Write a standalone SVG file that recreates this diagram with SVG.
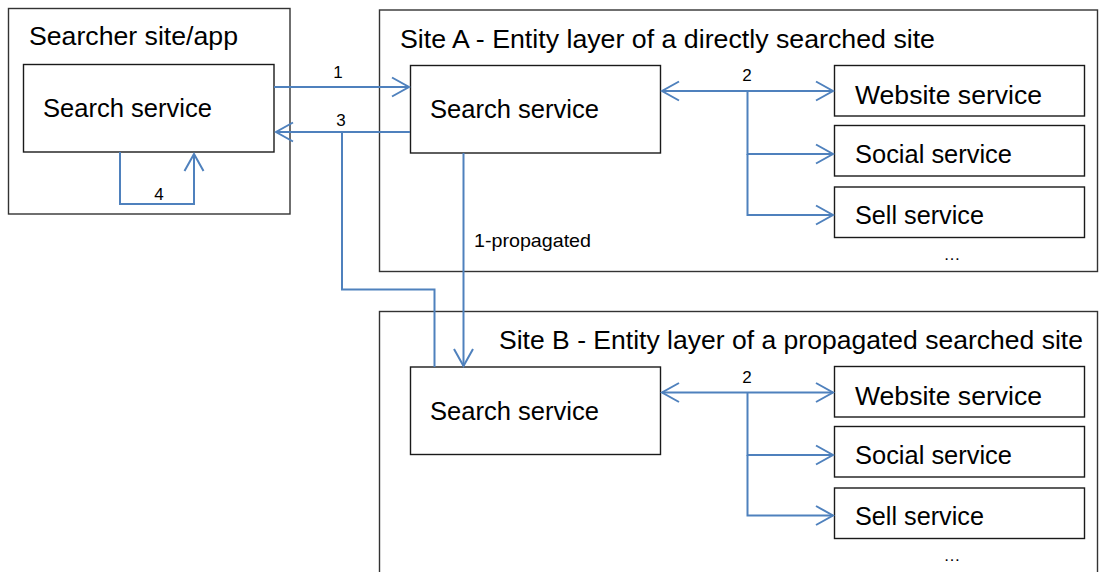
<svg xmlns="http://www.w3.org/2000/svg" width="1099" height="572" viewBox="0 0 1099 572">
<style>
.box{fill:#fff;stroke:#1a1a1a;stroke-width:1.4}
.outer{fill:#fff;stroke:#333;stroke-width:1.4}
.t{font-family:"Liberation Sans",Arial,sans-serif;font-size:25.5px;fill:#000}
.lbl{font-family:"Liberation Sans",Arial,sans-serif;font-size:17px;fill:#000;text-anchor:middle}
.sm{font-family:"Liberation Sans",Arial,sans-serif;font-size:18.5px;fill:#000}
.c{fill:none;stroke:#4F81BD;stroke-width:2}
.a{marker-end:url(#arr)}
.d{marker-start:url(#arr);marker-end:url(#arr)}
</style>
<defs>
<marker id="arr" markerUnits="userSpaceOnUse" viewBox="-19 -11 21 22" markerWidth="21" markerHeight="22" refX="0" refY="0" orient="auto-start-reverse">
<polyline points="-17,-9.5 0,0 -17,9.5" fill="none" stroke="#4F81BD" stroke-width="2"/>
</marker>
</defs>
<rect width="1099" height="572" fill="#fff"/>

<g id="searcher">
<rect class="outer" x="8.5" y="8.5" width="281.5" height="205.5"/>
<text class="t" x="29" y="45" textLength="209" lengthAdjust="spacingAndGlyphs">Searcher site/app</text>
</g>
<g id="searcher-search">
<rect class="box" x="23.5" y="64.5" width="250.5" height="87.5"/>
<text class="t" x="43" y="117" textLength="169" lengthAdjust="spacingAndGlyphs">Search service</text>
</g>

<g id="siteA">
<rect class="outer" x="379.5" y="10" width="718" height="261.5"/>
<text class="t" x="400" y="47.5" textLength="535" lengthAdjust="spacingAndGlyphs">Site A - Entity layer of a directly searched site</text>
<text class="lbl" x="952" y="260">…</text>
</g>
<g id="siteA-search">
<rect class="box" x="410.5" y="65.5" width="250" height="87.5"/>
<text class="t" x="430" y="118" textLength="169" lengthAdjust="spacingAndGlyphs">Search service</text>
</g>
<g id="siteA-website">
<rect class="box" x="834.5" y="65.5" width="250" height="50.5"/>
<text class="t" x="855" y="103.5" textLength="187" lengthAdjust="spacingAndGlyphs">Website service</text>
</g>
<g id="siteA-social">
<rect class="box" x="834.5" y="125.5" width="250" height="50.5"/>
<text class="t" x="855" y="163" textLength="157" lengthAdjust="spacingAndGlyphs">Social service</text>
</g>
<g id="siteA-sell">
<rect class="box" x="834.5" y="187" width="250" height="50.5"/>
<text class="t" x="855" y="224" textLength="129" lengthAdjust="spacingAndGlyphs">Sell service</text>
</g>

<g id="siteB">
<rect class="outer" x="379.5" y="311.5" width="718" height="300"/>
<text class="t" x="499" y="349" textLength="584" lengthAdjust="spacingAndGlyphs">Site B - Entity layer of a propagated searched site</text>
<text class="lbl" x="952" y="561">…</text>
</g>
<g id="siteB-search">
<rect class="box" x="410.5" y="367" width="250" height="87.5"/>
<text class="t" x="430" y="420" textLength="169" lengthAdjust="spacingAndGlyphs">Search service</text>
</g>
<g id="siteB-website">
<rect class="box" x="834.5" y="366.5" width="250" height="50.5"/>
<text class="t" x="855" y="404.5" textLength="187" lengthAdjust="spacingAndGlyphs">Website service</text>
</g>
<g id="siteB-social">
<rect class="box" x="834.5" y="426.5" width="250" height="50.5"/>
<text class="t" x="855" y="464" textLength="157" lengthAdjust="spacingAndGlyphs">Social service</text>
</g>
<g id="siteB-sell">
<rect class="box" x="834.5" y="488" width="250" height="50.5"/>
<text class="t" x="855" y="525" textLength="129" lengthAdjust="spacingAndGlyphs">Sell service</text>
</g>

<g id="connectors">
<path class="c a" d="M274,87 H409"/>
<text class="lbl" x="338" y="78">1</text>
<path class="c a" d="M410,132 H276"/>
<path class="c" d="M342,132 V289.5 H434.5 V367"/>
<text class="lbl" x="341" y="126">3</text>
<path class="c a" d="M120,152 V204 H194 V154"/>
<text class="lbl" x="159" y="199.5">4</text>
<path class="c a" d="M463.5,153 V366"/>
<text class="sm" x="474" y="247" textLength="117" lengthAdjust="spacingAndGlyphs">1-propagated</text>
<path class="c d" d="M662,91 H833"/>
<path class="c a" d="M747.5,91 V154 H833"/>
<path class="c a" d="M747.5,154 V215 H833"/>
<text class="lbl" x="747" y="81">2</text>
<path class="c d" d="M662,392.5 H833"/>
<path class="c a" d="M747.5,392.5 V455 H833"/>
<path class="c a" d="M747.5,455 V515.5 H833"/>
<text class="lbl" x="747" y="383">2</text>
</g>
</svg>
